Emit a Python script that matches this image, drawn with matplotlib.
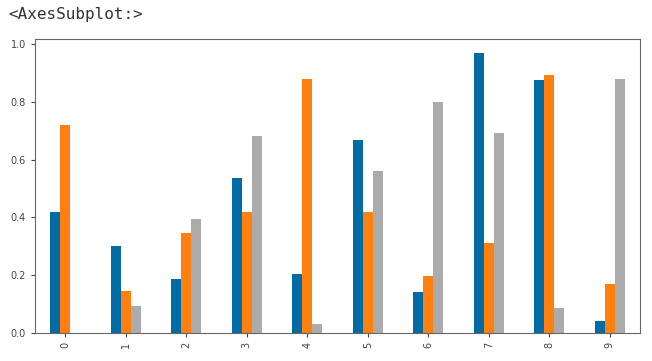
import numpy as np
import pandas as pd
import matplotlib
matplotlib.use("Agg")
import matplotlib.pyplot as plt

# values
index = list(range(10))
col_0 = [0.419, 0.300, 0.187, 0.536, 0.204, 0.668, 0.142, 0.969, 0.875, 0.041]
col_1 = [0.720, 0.145, 0.346, 0.419, 0.879, 0.419, 0.197, 0.311, 0.893, 0.170]
col_2 = [0.000, 0.093, 0.394, 0.682, 0.031, 0.560, 0.800, 0.692, 0.086, 0.879]

plt.style.use("tableau-colorblind10")
df = pd.DataFrame({0: col_0, 1: col_1, 2: col_2}, index=index)

fig = plt.figure(figsize=(6.52, 3.61), dpi=100)
ax = fig.add_axes([35 / 652, 1 - 333 / 361, 605 / 652, 294 / 361])
df.plot.bar(ax=ax, legend=False)

for s in ax.spines.values():
    s.set_color("#666666")
ax.tick_params(labelsize=7, colors="#444444", length=3)

fig.text(8 / 652, 1 - 15 / 361, "<AxesSubplot:>", family="DejaVu Sans Mono",
         fontsize=11.5, color="#333333", va="center")

fig.savefig("out.png", dpi=100)
